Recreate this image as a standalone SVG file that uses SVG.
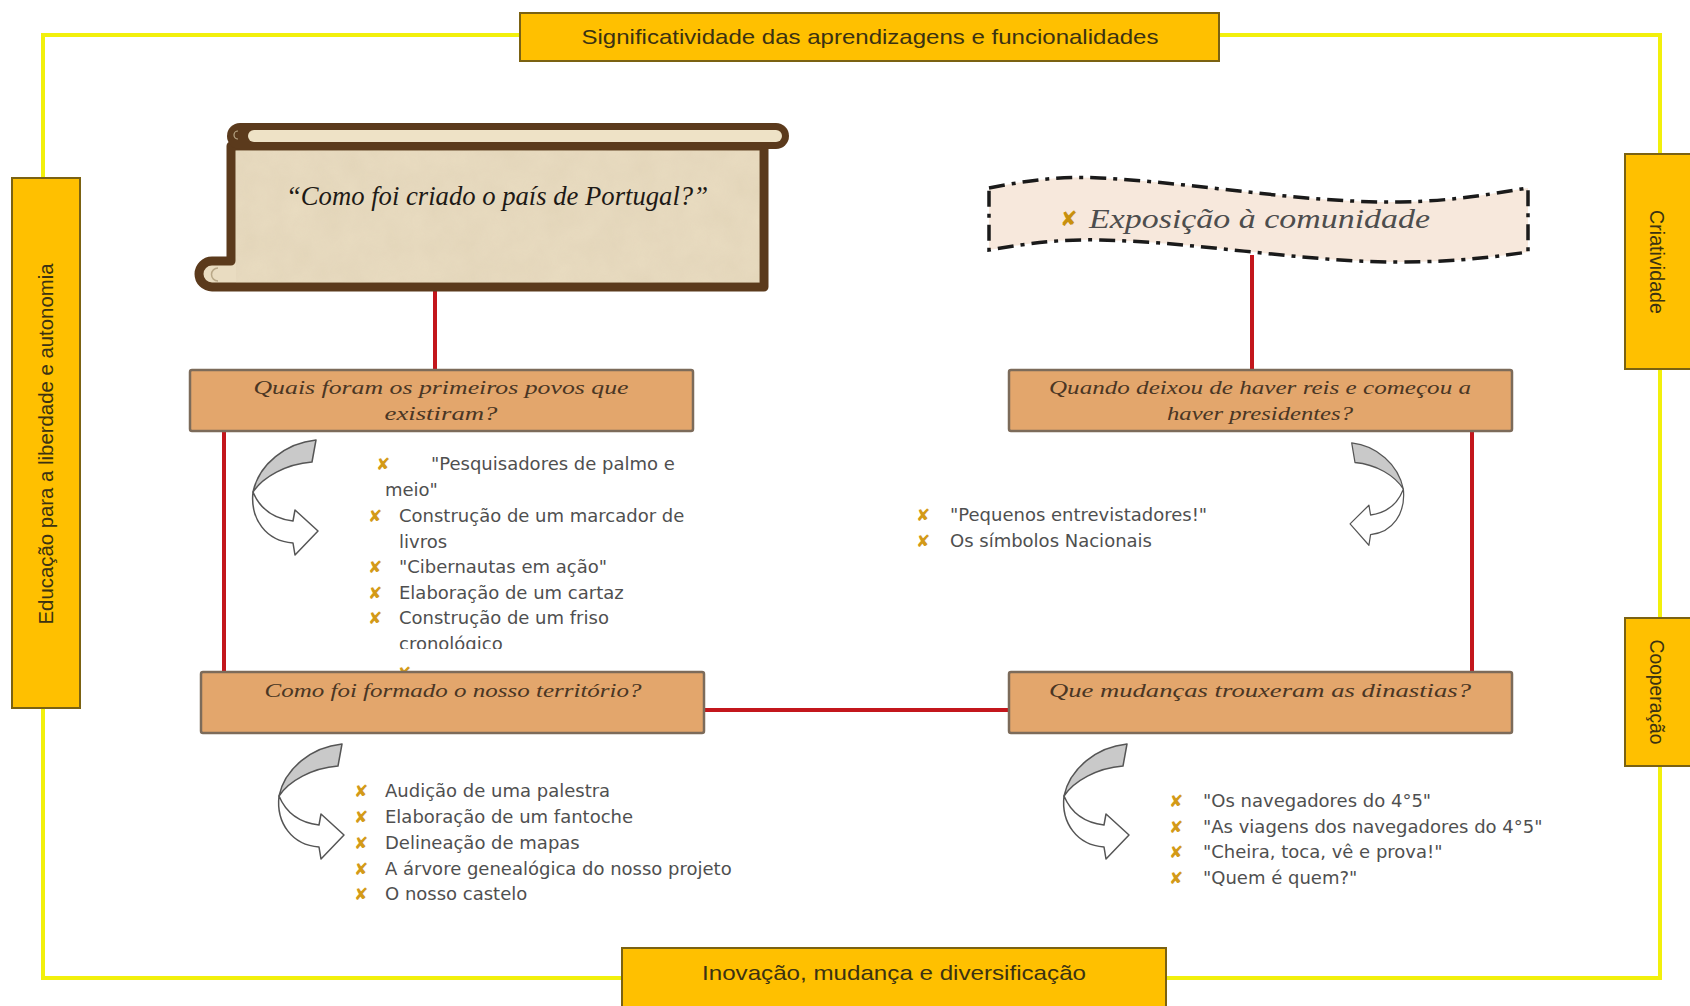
<svg xmlns="http://www.w3.org/2000/svg" width="1690" height="1006" viewBox="0 0 1690 1006">
  <style>
    .frame{fill:none;stroke:#f2f00c;stroke-width:4}
    .ybox{fill:#ffc000;stroke:#7b6212;stroke-width:2}
    .ylabel{font-family:"Liberation Sans",Arial,sans-serif;font-size:21px;fill:#3b3212;text-anchor:middle}
    .obox{fill:#e3a66c;stroke:#7c6b5a;stroke-width:2.5}
    .q{font-family:"Liberation Serif","Times New Roman",serif;font-style:italic;font-size:19px;fill:#4a3624;text-anchor:middle}
    .link{stroke:#c3161c;stroke-width:4;fill:none}
    .item{font-family:"DejaVu Sans",sans-serif;font-size:18px;fill:#4f4f4f}
    .bul{font-family:"DejaVu Sans",sans-serif;font-size:17px;fill:#d39a18}
    .arw-back{fill:#c9c9c9;stroke:#555;stroke-width:1.5;stroke-linejoin:round}
    .arw-front{fill:#fff;stroke:#555;stroke-width:1.5;stroke-linejoin:round}
    .brown{fill:#5b3a1c}
  </style>
  <defs>
    <!-- twisted curved arrow: shaded back half, white front half with head -->
    <g id="curl">
      <path class="arw-front" d="M 2 53 C 10 72 25 80 42 82 L 44 71 L 67 92 L 44 116 L 42 104 C 15 102 -1 80 2 53 Z"/>
      <path class="arw-back" d="M 65 1 C 35 4 8 25 2 53 C 12 38 35 25 61 23 Z"/>
    </g>
    <filter id="grain" x="0" y="0" width="1" height="1">
      <feTurbulence type="fractalNoise" baseFrequency="0.035" numOctaves="3" seed="4"/>
      <feColorMatrix type="matrix" values="0 0 0 0 0.62  0 0 0 0 0.52  0 0 0 0 0.36  0.35 0 0 0 0"/>
    </filter>
    <clipPath id="bodyClip"><rect x="236" y="150" width="524" height="133"/></clipPath>
    <clipPath id="list1Clip"><rect x="360" y="440" width="340" height="209"/></clipPath>
  </defs>

  <rect width="1690" height="1006" fill="#ffffff"/>

  <!-- outer yellow frame -->
  <rect class="frame" x="43" y="35" width="1617" height="943"/>

  <!-- connectors -->
  <g id="connectors">
    <line class="link" x1="435" y1="285" x2="435" y2="372"/>
    <line class="link" x1="1252" y1="255" x2="1252" y2="372"/>
    <line class="link" x1="224" y1="428" x2="224" y2="674"/>
    <line class="link" x1="1472" y1="428" x2="1472" y2="674"/>
    <line class="link" x1="702" y1="710" x2="1010" y2="710"/>
  </g>

  <!-- frame labels -->
  <g id="top-label">
    <rect class="ybox" x="520" y="13" width="699" height="48"/>
    <text class="ylabel" x="870" y="44" textLength="577" lengthAdjust="spacingAndGlyphs">Significatividade das aprendizagens e funcionalidades</text>
  </g>
  <g id="left-label">
    <rect class="ybox" x="12" y="178" width="68" height="530"/>
    <text class="ylabel" transform="translate(53,444) rotate(-90)" textLength="361" lengthAdjust="spacingAndGlyphs">Educação para a liberdade e autonomia</text>
  </g>
  <g id="right-label-1">
    <rect class="ybox" x="1625" y="154" width="70" height="215"/>
    <text class="ylabel" transform="translate(1650,262) rotate(90)" textLength="104" lengthAdjust="spacingAndGlyphs">Criatividade</text>
  </g>
  <g id="right-label-2">
    <rect class="ybox" x="1625" y="618" width="70" height="148"/>
    <text class="ylabel" transform="translate(1650,692) rotate(90)" textLength="105" lengthAdjust="spacingAndGlyphs">Cooperação</text>
  </g>
  <g id="bottom-label">
    <rect class="ybox" x="622" y="948" width="544" height="60"/>
    <text class="ylabel" x="894" y="980" textLength="384" lengthAdjust="spacingAndGlyphs">Inovação, mudança e diversificação</text>
  </g>

  <!-- title scroll -->
  <g id="scroll">
    <path d="M 231 146 L 764 146 L 764 287 L 212 287 A 13 13 0 0 1 212 261 L 231 261 Z" fill="#e9dcc1" stroke="#5b3a1c" stroke-width="9" stroke-linejoin="round"/>
    <rect x="236" y="150" width="524" height="133" filter="url(#grain)" opacity="0.7" clip-path="url(#bodyClip)"/>
    <path d="M 218 268 A 6 6 0 1 0 218 281" fill="none" stroke="#b9a888" stroke-width="1.5"/>
    <rect class="brown" x="227" y="123" width="562" height="26" rx="13"/>
    <rect x="248" y="130" width="534" height="12" rx="6" fill="#eee2c6"/>
    <path d="M 238 131 A 4 4 0 1 0 238 139" fill="none" stroke="#b9a888" stroke-width="1.2"/>
    <text x="497" y="205" font-family="'Liberation Serif','Times New Roman',serif" font-style="italic" font-size="27" fill="#1e1a16" text-anchor="middle" textLength="422" lengthAdjust="spacingAndGlyphs">“Como foi criado o país de Portugal?”</text>
  </g>

  <!-- exhibition banner -->
  <g id="banner">
    <path d="M 989 188 C 1030 180 1060 176 1100 178 C 1200 183 1300 203 1400 202 C 1460 201 1500 192 1528 188 L 1528 252 C 1500 256 1460 262 1400 262 C 1300 262 1200 242 1100 240 C 1060 239 1030 243 989 250 Z" fill="#f7e8dc" stroke="#1a1a1a" stroke-width="3.5" stroke-dasharray="16 7 4 7"/>
    <text x="1060" y="226" font-family="'DejaVu Sans',sans-serif" font-size="21" fill="#c8900e">✘</text>
    <text x="1089" y="228" font-family="'Liberation Serif','Times New Roman',serif" font-style="italic" font-size="27" fill="#4d4d4d" textLength="341" lengthAdjust="spacingAndGlyphs">Exposição à comunidade</text>
  </g>

  <!-- hidden bullet peeking above the territory box -->
  <text class="bul" x="397" y="679">✘</text>

  <!-- question boxes -->
  <g id="q-povos">
    <rect class="obox" x="190" y="370" width="503" height="61" rx="2"/>
    <text class="q" x="441" y="394" textLength="375" lengthAdjust="spacingAndGlyphs">Quais foram os primeiros povos que</text>
    <text class="q" x="441" y="420" textLength="113" lengthAdjust="spacingAndGlyphs">existiram?</text>
  </g>
  <g id="q-presidentes">
    <rect class="obox" x="1009" y="370" width="503" height="61" rx="2"/>
    <text class="q" x="1260" y="394" textLength="422" lengthAdjust="spacingAndGlyphs">Quando deixou de haver reis e começou a</text>
    <text class="q" x="1260" y="420" textLength="186" lengthAdjust="spacingAndGlyphs">haver presidentes?</text>
  </g>
  <g id="q-territorio">
    <rect class="obox" x="201" y="672" width="503" height="61" rx="2"/>
    <text class="q" x="453" y="697" textLength="377" lengthAdjust="spacingAndGlyphs">Como foi formado o nosso território?</text>
  </g>
  <g id="q-dinastias">
    <rect class="obox" x="1009" y="672" width="503" height="61" rx="2"/>
    <text class="q" x="1260" y="697" textLength="422" lengthAdjust="spacingAndGlyphs">Que mudanças trouxeram as dinastias?</text>
  </g>

  <!-- curved arrows -->
  <use href="#curl" transform="translate(251,439)"/>
  <use href="#curl" transform="translate(1405,442) scale(-0.82,0.89)"/>
  <use href="#curl" transform="translate(277,743)"/>
  <use href="#curl" transform="translate(1062,743)"/>

  <!-- activity lists -->
  <g id="list-povos">
    <g clip-path="url(#list1Clip)">
      <text class="bul" x="376" y="470">✘</text>
      <text class="item" x="431" y="470">"Pesquisadores de palmo e</text>
      <text class="item" x="385" y="496">meio"</text>
      <text class="bul" x="368" y="522">✘</text>
      <text class="item" x="399" y="522">Construção de um marcador de</text>
      <text class="item" x="399" y="548">livros</text>
      <text class="bul" x="368" y="573">✘</text>
      <text class="item" x="399" y="573">"Cibernautas em ação"</text>
      <text class="bul" x="368" y="599">✘</text>
      <text class="item" x="399" y="599">Elaboração de um cartaz</text>
      <text class="bul" x="368" y="624">✘</text>
      <text class="item" x="399" y="624">Construção de um friso</text>
      <text class="item" x="399" y="650">cronológico</text>
    </g>
  </g>
  <g id="list-presidentes">
    <text class="bul" x="916" y="521">✘</text>
    <text class="item" x="950" y="521">"Pequenos entrevistadores!"</text>
    <text class="bul" x="916" y="547">✘</text>
    <text class="item" x="950" y="547">Os símbolos Nacionais</text>
  </g>
  <g id="list-territorio">
    <text class="bul" x="354" y="797">✘</text>
    <text class="item" x="385" y="797">Audição de uma palestra</text>
    <text class="bul" x="354" y="823">✘</text>
    <text class="item" x="385" y="823">Elaboração de um fantoche</text>
    <text class="bul" x="354" y="849">✘</text>
    <text class="item" x="385" y="849">Delineação de mapas</text>
    <text class="bul" x="354" y="875">✘</text>
    <text class="item" x="385" y="875">A árvore genealógica do nosso projeto</text>
    <text class="bul" x="354" y="900">✘</text>
    <text class="item" x="385" y="900">O nosso castelo</text>
  </g>
  <g id="list-dinastias">
    <text class="bul" x="1169" y="807">✘</text>
    <text class="item" x="1203" y="807">"Os navegadores do 4°5"</text>
    <text class="bul" x="1169" y="833">✘</text>
    <text class="item" x="1203" y="833">"As viagens dos navegadores do 4°5"</text>
    <text class="bul" x="1169" y="858">✘</text>
    <text class="item" x="1203" y="858">"Cheira, toca, vê e prova!"</text>
    <text class="bul" x="1169" y="884">✘</text>
    <text class="item" x="1203" y="884">"Quem é quem?"</text>
  </g>
</svg>
